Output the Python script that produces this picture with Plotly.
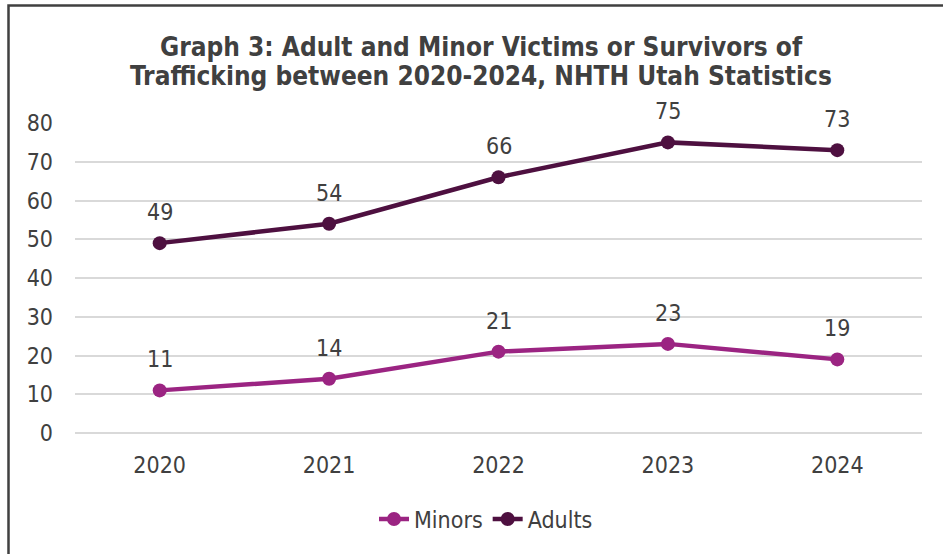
import plotly.graph_objects as go

years = ["2020", "2021", "2022", "2023", "2024"]
minors = [11, 14, 21, 23, 19]
adults = [49, 54, 66, 75, 73]
y_ticks = [0, 10, 20, 30, 40, 50, 60, 70, 80]
title_lines = ["Graph 3: Adult and Minor Victims or Survivors of",
               "Trafficking between 2020-2024, NHTH Utah Statistics"]

FONT = "DejaVu Sans Condensed"
TXT = "#404040"
C_MIN = "#9B2482"
C_ADU = "#4E1040"
FS = 23

W, H = 943, 554
L, R, T, B = 75, 21, 123, 121
pw, ph = W - L - R, H - T - B


def px(x):
    return (x - L) / pw


def py(y):
    return (H - B - y) / ph


fig = go.Figure()
for name, vals, col in [("Minors", minors, C_MIN), ("Adults", adults, C_ADU)]:
    fig.add_trace(go.Scatter(
        x=years, y=vals, name=name, mode="lines+markers",
        line=dict(color=col, width=4.5), marker=dict(size=14, color=col),
        cliponaxis=False))

annotations = []
for vals in (minors, adults):
    for i, v in enumerate(vals):
        annotations.append(dict(x=i, y=v, xref="x", yref="y", text=str(v),
                                showarrow=False, yshift=31, yanchor="middle",
                                font=dict(family=FONT, size=FS, color=TXT)))
for line, yc in zip(title_lines, [47, 76]):
    annotations.append(dict(x=px(481), y=py(yc), xref="paper", yref="paper",
                            text="<b>" + line + "</b>", showarrow=False,
                            xanchor="center", yanchor="middle",
                            font=dict(family=FONT, size=26, color=TXT)))

fig.update_layout(
    width=W, height=H,
    margin=dict(l=L, r=R, t=T, b=B),
    paper_bgcolor="white", plot_bgcolor="white",
    font=dict(family=FONT, size=FS, color=TXT),
    xaxis=dict(type="category", range=[-0.5, 4.5], showgrid=False, showline=False,
               ticks="", tickfont=dict(family=FONT, size=FS, color=TXT),
               ticklabelstandoff=16),
    yaxis=dict(range=[0, 80], tickvals=y_ticks, showgrid=True, gridcolor="#D9D9D9",
               gridwidth=1.5, zeroline=True, zerolinecolor="#D9D9D9", zerolinewidth=1.5,
               showline=False, ticks="", tickfont=dict(family=FONT, size=FS, color=TXT),
               ticklabelstandoff=21),
    legend=dict(orientation="h", x=px(486), xanchor="center", y=py(519), yanchor="middle",
                font=dict(family=FONT, size=FS, color=TXT), traceorder="normal",
                itemwidth=30),
    showlegend=True,
    hovermode=False,
    annotations=annotations,
    shapes=[dict(type="rect", xref="paper", yref="paper",
                 x0=px(8.5), x1=px(990), y0=py(600), y1=py(5.5),
                 line=dict(color="#404040", width=2.5), layer="above")],
)
fig.write_html("out.html", config={"displayModeBar": False},
               post_script="document.body.style.margin='0';")
